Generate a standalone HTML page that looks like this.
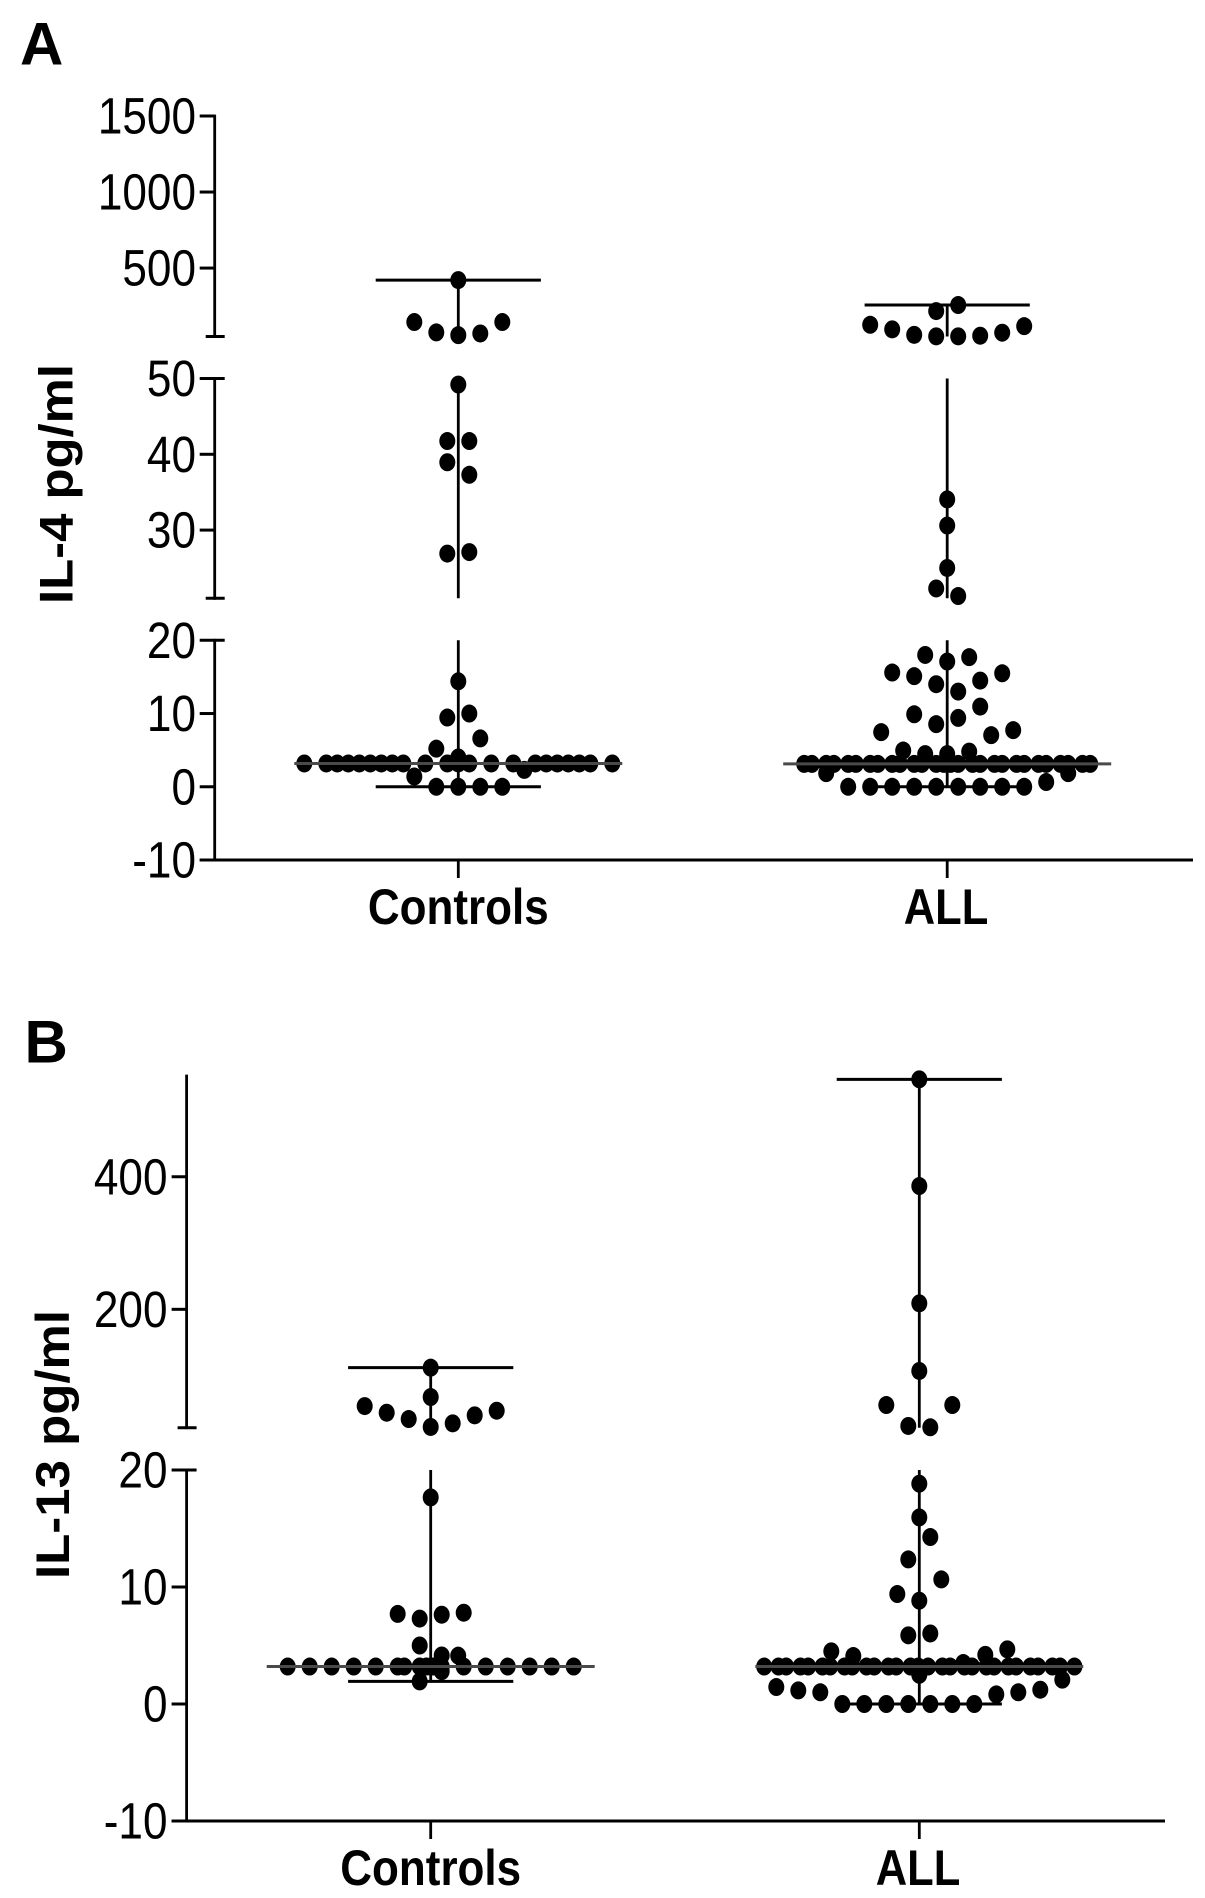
<!DOCTYPE html>
<html lang="en">
<head>
<meta charset="utf-8">
<title>IL-4 and IL-13 levels in controls and ALL</title>
<style>
html,body{margin:0;padding:0;background:#fff;}
svg{display:block;}
text{font-family:"Liberation Sans",sans-serif;fill:#000;}
</style>
</head>
<body>
<svg id="figure" xmlns="http://www.w3.org/2000/svg" width="1205" height="1898" viewBox="0 0 1205 1898">
  <rect x="0" y="0" width="1205" height="1898" fill="#fff"/>
  <text x="20" y="64.5" font-size="60" font-weight="700">A</text>
  <text x="24.5" y="1062.5" font-size="60" font-weight="700">B</text>
  <text transform="translate(72.4,604) rotate(-90)" font-size="47" font-weight="700" textLength="240" lengthAdjust="spacingAndGlyphs">IL-4 pg/ml</text>
  <text transform="translate(69.2,1579) rotate(-90)" font-size="47" font-weight="700" textLength="269" lengthAdjust="spacingAndGlyphs">IL-13 pg/ml</text>
  <text transform="translate(458.3,924) scale(0.88,1)" text-anchor="middle" font-size="50" font-weight="700">Controls</text>
  <text transform="translate(946,924) scale(0.87,1)" text-anchor="middle" font-size="50" font-weight="700">ALL</text>
  <text transform="translate(430.7,1885) scale(0.88,1)" text-anchor="middle" font-size="50" font-weight="700">Controls</text>
  <text transform="translate(918,1885) scale(0.87,1)" text-anchor="middle" font-size="50" font-weight="700">ALL</text>
</svg>
<script>
// ---------- Tick values ----------
const il4TicksTop = [1500, 1000, 500];
const il4TicksMiddle = [50, 40, 30];
const il4TicksLow = [20, 10, 0, -10];
const il13TicksTop = [400, 200];
const il13TicksLow = [20, 10, 0, -10];

// ---------- Summary lines: minimum, median, maximum ----------
const il4ControlsStats = [0, 3.18, 421];
const il4AllStats = [0, 3.12, 257];
const il13ControlsStats = [1.93, 3.2, 112];
const il13AllStats = [0, 3.2, 547];

// ---------- IL-4 Controls: concentrations and swarm columns ----------
const il4ControlsValues = [
  421, 145, 77, 59, 70, 145,
  49.2, 41.75, 41.75, 38.95, 37.3, 26.9, 27.1,
  14.4, 10.0, 9.45, 6.6, 5.2, 4.0, 2.3, 1.4,
  3.18, 3.18, 3.18, 3.18, 3.18, 3.18, 3.18, 3.18, 3.18, 3.18, 3.18,
  3.18, 3.18, 3.18, 3.18, 3.18, 3.18, 3.18, 3.18, 3.18, 3.18, 3.18,
  0, 0, 0, 0
];
const il4ControlsColumns = [
  0, -2, -1, 0, 1, 2,
  0, -0.5, 0.5, -0.5, 0.5, -0.5, 0.5,
  0, 0.5, -0.5, 1, -1, 0, 3, -2,
  -7, -6, -5.5, -5, -4.5, -4, -3.5, -3, -2.5, -1.5, -0.5,
  0.5, 1.5, 2.5, 3.5, 4, 4.5, 5, 5.5, 6, 7, 0,
  -1, 0, 1, 2
];

// ---------- IL-4 ALL ----------
const il4AllValues = [
  257, 217, 127, 97, 61, 51, 51, 55, 75, 118,
  34.05, 30.6, 25.0, 22.3, 21.3,
  18.0, 17.7, 17.1, 15.6, 15.5, 15.1, 14.5, 14.0, 13.0, 10.95, 9.9, 9.4, 8.55,
  7.73, 7.46, 7.05, 4.95, 4.8, 4.46, 4.46,
  3.12, 3.12, 3.12, 3.12, 3.12, 3.12, 3.12, 3.12, 3.12, 3.12, 3.12, 3.12, 3.12, 3.12,
  3.12, 3.12, 3.12, 3.12, 3.12, 3.12, 3.12, 3.12, 3.12, 3.12, 3.12, 3.12, 3.12, 3.12,
  1.86, 1.86, 0.65,
  0, 0, 0, 0, 0, 0, 0, 0, 0
];
const il4AllColumns = [
  0.5, -0.5, -3.5, -2.5, -1.5, -0.5, 0.5, 1.5, 2.5, 3.5,
  0, 0, 0, -0.5, 0.5,
  -1, 1, 0, -2.5, 2.5, -1.5, 1.5, -0.5, 0.5, 1.5, -1.5, 0.5, -0.5,
  3, -3, 2, -2, 1, -1, 0,
  -6.5, -6.15, -5.5, -5.15, -4.5, -4.15, -3.5, -3.15, -2.5, -2.15, -1.5, -1.15, -0.5, -0.15,
  0.15, 0.5, 1.15, 1.5, 2.15, 2.5, 3.15, 3.5, 4.15, 4.5, 5.15, 5.5, 6.15, 6.5,
  -5.5, 5.5, 4.5,
  -4.5, -3.5, -2.5, -1.5, -0.5, 0.5, 1.5, 2.5, 3.5
];

// ---------- IL-13 Controls ----------
const il13ControlsValues = [
  112, 67.7, 54, 44, 34.5, 22.5, 28, 40, 47,
  17.66, 7.8, 7.7, 7.63, 7.3, 5.0, 4.15, 4.13, 2.8, 1.93,
  3.2, 3.2, 3.2, 3.2, 3.2, 3.2, 3.2, 3.2, 3.2, 3.2,
  3.2, 3.2, 3.2, 3.2, 3.2, 3.2, 3.2, 3.2
];
const il13ControlsColumns = [
  0, 0, -3, -2, -1, 0, 1, 2, 3,
  0, 1.5, -1.5, 0.5, -0.5, -0.5, 0.5, 1.25, 0.5, -0.5,
  -6.5, -5.5, -4.5, -3.5, -2.5, -1.5, -1.2, -0.5, -0.2, 0.15,
  0.5, 1.5, 2.5, 3.5, 4.5, 5.5, 6.5, 0
];

// ---------- IL-13 ALL ----------
const il13AllValues = [
  547, 386, 209, 107, 55.6, 55.6, 24, 22,
  18.83, 15.95, 14.27, 12.36, 10.65, 9.4, 8.83, 6.03, 5.87,
  4.67, 4.5, 4.2, 4.1, 3.5, 2.5,
  3.2, 3.2, 3.2, 3.2, 3.2, 3.2, 3.2, 3.2, 3.2, 3.2, 3.2, 3.2, 3.2, 3.2, 3.2,
  3.2, 3.2, 3.2, 3.2, 3.2, 3.2, 3.2, 3.2, 3.2, 3.2, 3.2, 3.2, 3.2, 3.2,
  2.08, 1.45, 1.22, 1.16, 1.0, 1.0, 0.82,
  0, 0, 0, 0, 0, 0, 0
];
const il13AllColumns = [
  0, 0, 0, 0, -1.5, 1.5, -0.5, 0.5,
  0, 0, 0.5, -0.5, 1, -1, 0, 0.5, -0.5,
  4, -4, 3, -3, 2, 0,
  -7.05, -6.4, -6.05, -5.4, -5.05, -4.4, -4.05, -3.4, -3.05, -2.4, -2.05, -1.4, -1.05, -0.4, -0.05,
  0.4, 1.05, 1.4, 2.05, 2.4, 3.05, 3.4, 4.05, 4.4, 5.05, 5.4, 6.05, 6.4, 7.05,
  6.5, -6.5, 5.5, -5.5, -4.5, 4.5, 3.5,
  -3.5, -2.5, -1.5, -0.5, 0.5, 1.5, 2.5
];

// ---------- Drawing helpers ----------
const SVG_NS = 'http://www.w3.org/2000/svg';
const figure = document.getElementById('figure');
const COLUMN_WIDTH = 22;
const CAP_HALF = 82.6;
const MEDIAN_HALF = 164;

function makeLine(parent, x1, y1, x2, y2, stroke, width) {
  const el = document.createElementNS(SVG_NS, 'line');
  el.setAttribute('x1', x1);
  el.setAttribute('y1', y1);
  el.setAttribute('x2', x2);
  el.setAttribute('y2', y2);
  el.setAttribute('stroke', stroke);
  el.setAttribute('stroke-width', width);
  parent.appendChild(el);
  return el;
}

function makeGroup(parent) {
  const g = document.createElementNS(SVG_NS, 'g');
  parent.appendChild(g);
  return g;
}

// Piecewise linear axis for a broken y scale.
function brokenScale(segments) {
  return function (v) {
    let seg = segments[segments.length - 1];
    for (const s of segments) {
      if (v <= s.max) { seg = s; }
    }
    for (const s of segments) {
      if (v > s.split && v <= s.max) { seg = s; }
    }
    return seg.yMin + (v - seg.min) * (seg.yMax - seg.yMin) / (seg.max - seg.min);
  };
}

function drawSeries(panel, xCenter, stats, values, columns, yScale, seriesName) {
  const g = makeGroup(figure);
  
  

  const lo = stats[0], med = stats[1], hi = stats[2];

  panel.segments.forEach(function (s) {
    const top = Math.min(hi, s.max);
    const bottom = Math.max(lo, s.min);
    if (top > bottom) {
      const stem = makeLine(g, xCenter, yScale(top), xCenter, s.min < lo ? yScale(lo) : s.yMin, '#000', 2.8);
      
      
    }
  });

  const maxCap = makeLine(g, xCenter - CAP_HALF, yScale(hi), xCenter + CAP_HALF, yScale(hi), '#000', 3);
  
  

  const minCap = makeLine(g, xCenter - CAP_HALF, yScale(lo), xCenter + CAP_HALF, yScale(lo), '#000', 3);
  
  

  values.forEach(function (v, i) {
    const dot = document.createElementNS(SVG_NS, 'ellipse');
    
    
    dot.setAttribute('cx', xCenter + columns[i] * COLUMN_WIDTH);
    dot.setAttribute('cy', yScale(v));
    dot.setAttribute('rx', 8);
    dot.setAttribute('ry', 9);
    dot.setAttribute('fill', '#000');
    g.appendChild(dot);
  });

  const medianLine = makeLine(g, xCenter - MEDIAN_HALF, yScale(med), xCenter + MEDIAN_HALF, yScale(med), '#4a4a4a', 3);
  
  
}

function drawPanel(panel) {
  const yScale = brokenScale(panel.segments);
  const axis = makeGroup(figure);
  
  

  panel.segments.forEach(function (s) {
    const spine = makeLine(axis, panel.axisX, s.yMax - 1.4, panel.axisX, s.yMin + 1.4, '#000', 2.8);
    
    

    if (s.bottomTick) {
      const bt = makeLine(axis, panel.axisX - 9, s.yMin, panel.axisX + 10, s.yMin, '#000', 3);
      
      
    }

    s.ticks.forEach(function (t, i) {
      const y = s.yMin + (t - s.min) * (s.yMax - s.yMin) / (s.max - s.min);
      const extend = (i === 0 && s.topExtend) ? 10 : 0;
      const tick = makeLine(axis, panel.axisX - 15, y, panel.axisX + extend, y, '#000', 3);
      
      

      const label = document.createElementNS(SVG_NS, 'text');
      
      
      label.setAttribute('transform', 'translate(' + panel.labelX + ',' + (y + 17.6) + ') scale(0.865,1)');
      label.setAttribute('text-anchor', 'end');
      label.setAttribute('font-size', '51');
      label.textContent = String(t);
      axis.appendChild(label);
    });
  });

  const bottom = panel.segments[0].yMin;
  const xAxis = makeLine(axis, panel.axisX - 15, bottom, panel.xEnd, bottom, '#000', 3);
  
  

  panel.series.forEach(function (sr) {
    const xt = makeLine(axis, sr.x, bottom, sr.x, bottom + 18, '#000', 2.8);
    
    
    drawSeries(panel, sr.x, sr.stats, sr.values, sr.columns, yScale, sr.name);
  });
}

drawPanel({
  name: 'il4-panel',
  axisX: 214.7,
  labelX: 196,
  xEnd: 1193,
  segments: [
    { min: -10, max: 20, split: -Infinity, yMin: 860, yMax: 640.3, ticks: il4TicksLow, topExtend: true, bottomTick: false },
    { min: 21, max: 50, split: 20, yMin: 598.3, yMax: 378.5, ticks: il4TicksMiddle, topExtend: true, bottomTick: true },
    { min: 50, max: 1500, split: 50, yMin: 336.5, yMax: 116, ticks: il4TicksTop, topExtend: false, bottomTick: true }
  ],
  series: [
    { name: 'il4-controls-series', x: 458.3, stats: il4ControlsStats, values: il4ControlsValues, columns: il4ControlsColumns },
    { name: 'il4-all-series', x: 947.2, stats: il4AllStats, values: il4AllValues, columns: il4AllColumns }
  ]
});

drawPanel({
  name: 'il13-panel',
  axisX: 186.6,
  labelX: 167.5,
  xEnd: 1165,
  segments: [
    { min: -10, max: 20, split: -Infinity, yMin: 1821, yMax: 1470, ticks: il13TicksLow, topExtend: true, bottomTick: false },
    { min: 21.4, max: 552, split: 20, yMin: 1427.7, yMax: 1076, ticks: il13TicksTop, topExtend: false, bottomTick: true }
  ],
  series: [
    { name: 'il13-controls-series', x: 430.7, stats: il13ControlsStats, values: il13ControlsValues, columns: il13ControlsColumns },
    { name: 'il13-all-series', x: 919.3, stats: il13AllStats, values: il13AllValues, columns: il13AllColumns }
  ]
});
</script>
</body>
</html>
